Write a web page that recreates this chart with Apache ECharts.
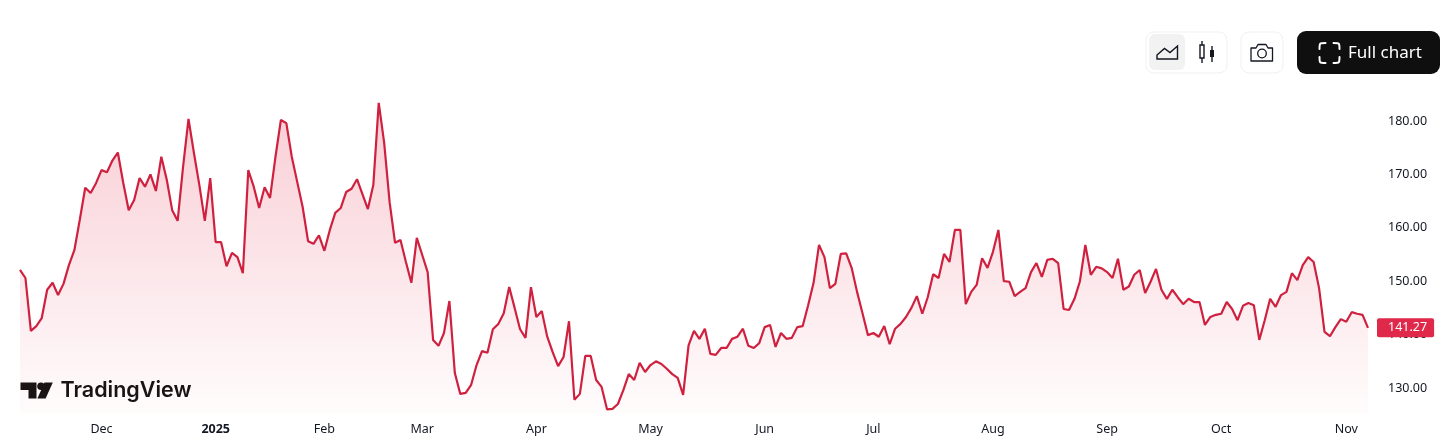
<!DOCTYPE html>
<html>
<head>
<meta charset="utf-8">
<title>Price chart</title>
<script src="https://cdn.jsdelivr.net/npm/echarts@6/dist/echarts.min.js"></script>
<style>
  html, body { margin: 0; padding: 0; background: #fff; }
  #chart { width: 1456px; height: 445px; }
</style>
</head>
<body>
<div id="chart"></div>
<script>
const prices = [
  152.1, 150.6, 140.7, 141.6, 143.1, 148.4, 149.7, 147.4, 149.5, 153,
  155.8, 161.5, 167.5, 166.5, 168.4, 170.8, 170.4, 172.6, 174.1, 168.4,
  163.3, 165.2, 169.3, 167.7, 170, 166.9, 173.3, 169, 163.3, 161.3,
  171.4, 180.4, 174, 168, 161.3, 169.3, 157.3, 157.3, 152.8, 155.3,
  154.5, 151.5, 170.8, 167.7, 163.7, 167.6, 165.6, 173.3, 180.2, 179.6,
  173.3, 168.6, 163.9, 157.5, 157, 158.6, 155.7, 159.6, 162.8, 163.7,
  166.7, 167.3, 169.1, 166.3, 163.5, 168, 183.4, 175.9, 164.8, 157.2,
  157.7, 153.6, 149.7, 158.1, 154.9, 151.7, 139, 137.9, 140.3, 146.3,
  132.8, 128.9, 129.1, 130.6, 134.3, 136.9, 136.6, 141, 142, 144,
  148.9, 145, 141, 139.4, 148.9, 143.3, 144.4, 139.6, 136.7, 134.1,
  135.8, 142.5, 127.8, 128.9, 136, 136, 131.5, 130.2, 126, 126.1,
  127, 129.6, 132.6, 131.5, 134.7, 133, 134.3, 135, 134.5, 133.6,
  132.6, 131.9, 128.7, 138, 140.7, 139.2, 141.1, 136.4, 136.2, 137.5,
  137.5, 139.2, 139.6, 141.1, 137.9, 137.5, 138.4, 141.4, 141.8, 137.7,
  140.3, 139.2, 139.4, 141.4, 141.6, 145.5, 149.7, 156.8, 154.5, 148.7,
  149.5, 155.1, 155.2, 152.5, 148, 144, 139.9, 140.3, 139.6, 141.6,
  138.2, 141.1, 142, 143.3, 145, 147.2, 143.9, 147, 151.3, 150.6,
  155.1, 153.6, 159.6, 159.6, 145.7, 148, 149.3, 154.3, 152.5, 155.5,
  159.6, 150, 149.9, 147.2, 148, 148.7, 151.7, 153.4, 150.8, 154,
  154.2, 153.4, 144.8, 144.6, 146.7, 150, 156.8, 151.2, 152.7, 152.4,
  151.7, 150.6, 154.2, 148.4, 149, 151.2, 152.1, 147.8, 149.9, 152.3,
  148.4, 146.7, 148.4, 147, 145.7, 146.7, 146.1, 146.1, 141.8, 143.3,
  143.7, 143.9, 146.1, 144.8, 142.7, 145.4, 145.9, 145.5, 139, 142.7,
  146.7, 145.2, 147.4, 148, 151.5, 150.2, 153, 154.5, 153.6, 148.7,
  140.5, 139.7, 141.4, 142.9, 142.4, 144.2, 143.9, 143.7, 141.27
]
const monthLabels = ['Dec', '2025', 'Feb', 'Mar', 'Apr', 'May', 'Jun', 'Jul', 'Aug', 'Sep', 'Oct', 'Nov']
const monthIndexes = [15, 36, 56, 74, 95, 116, 137, 157, 179, 200, 221, 244]
const priceTicks = [130, 140, 150, 160, 170, 180]
const lastPrice = prices[prices.length - 1]

const categories = prices.map((p, i) => {
  const m = monthIndexes.indexOf(i)
  return m >= 0 ? monthLabels[m] : ''
})

const FONT = '"Noto Sans", sans-serif'
const RED = '#cf213f'

// one rounded corner of the fullscreen icon, sx/sy say which way its arms run
const corner = (x, y, sx, sy) => ({
  type: 'bezierCurve',
  shape: { x1: x, y1: y + sy * 6, cpx1: x, cpy1: y, cpx2: x, cpy2: y, x2: x + sx * 6, y2: y },
  style: { fill: 'none', stroke: '#fff', lineWidth: 2, lineCap: 'round' }
})

const chart = echarts.init(document.getElementById('chart'), null, { renderer: 'canvas' })

chart.setOption({
  animation: false,
  backgroundColor: '#fff',
  grid: { left: 20, right: 88, top: 94.3, height: 320.4 },
  xAxis: {
    type: 'category',
    data: categories,
    boundaryGap: false,
    axisLine: { show: false },
    axisTick: { show: false },
    splitLine: { show: false },
    axisLabel: {
      margin: 8,
      interval: (i, v) => v !== '',
      fontFamily: FONT,
      fontSize: 12.5,
      color: '#131722',
      formatter: v => (v === '2025' ? '{year|2025}' : v),
      rich: { year: { fontFamily: FONT, fontSize: 12.5, fontWeight: 'bold', color: '#131722' } }
    }
  },
  yAxis: {
    type: 'value',
    position: 'right',
    min: 125,
    max: 185,
    axisLine: { show: false },
    axisTick: { show: false },
    splitLine: { show: false },
    axisLabel: {
      customValues: priceTicks,
      margin: 20,
      fontFamily: FONT,
      fontSize: 12.5,
      color: '#131722',
      formatter: v => v.toFixed(2)
    }
  },
  series: [
    {
      type: 'line',
      data: prices,
      symbol: 'none',
      smooth: false,
      lineStyle: { color: RED, width: 2.2 },
      areaStyle: {
        origin: 'start',
        color: new echarts.graphic.LinearGradient(0, 0, 0, 1, [
          { offset: 0, color: 'rgba(226,35,66,0.32)' },
          { offset: 1, color: 'rgba(226,35,66,0.02)' }
        ])
      },
      markPoint: {
        silent: true,
        symbol: 'rect',
        symbolSize: 0,
        data: [{ coord: [prices.length - 1, lastPrice] }],
        label: {
          show: true,
          position: 'right',
          distance: 9,
          formatter: () => lastPrice.toFixed(2),
          backgroundColor: '#e0294a',
          borderRadius: 2,
          padding: [3, 7, 3, 11],
          fontFamily: FONT,
          fontSize: 12.5,
          color: '#fff'
        }
      }
    }
  ],
  graphic: [
    // chart type switch
    { type: 'rect', shape: { x: 1146, y: 32, width: 81, height: 41, r: 8 }, style: { fill: '#fff', stroke: '#f0f1f4', lineWidth: 1 } },
    { type: 'rect', shape: { x: 1149, y: 34, width: 36, height: 36, r: 6 }, style: { fill: '#f2f2f2' } },
    { type: 'polygon', shape: { points: [[1157, 55], [1164.5, 48.5], [1170, 52.5], [1177.5, 46], [1177.5, 59], [1157, 59]] }, style: { fill: 'none', stroke: '#131722', lineWidth: 1.4 } },
    { type: 'line', shape: { x1: 1202, y1: 41, x2: 1202, y2: 63 }, style: { stroke: '#131722', lineWidth: 1.4 } },
    { type: 'rect', shape: { x: 1200, y: 45, width: 4, height: 13 }, style: { fill: '#fff', stroke: '#131722', lineWidth: 1.4 } },
    { type: 'line', shape: { x1: 1212, y1: 46, x2: 1212, y2: 62 }, style: { stroke: '#131722', lineWidth: 1.4 } },
    { type: 'rect', shape: { x: 1210, y: 50, width: 4, height: 7 }, style: { fill: '#131722' } },
    // camera
    { type: 'rect', shape: { x: 1241, y: 32, width: 42, height: 41, r: 8 }, style: { fill: '#fff', stroke: '#f0f1f4', lineWidth: 1 } },
    { type: 'polygon', shape: { points: [[1251, 48], [1256, 48], [1258, 44.5], [1266, 44.5], [1268, 48], [1272.5, 48], [1272.5, 61], [1251, 61]] }, style: { fill: 'none', stroke: '#131722', lineWidth: 1.3, lineJoin: 'round' } },
    { type: 'circle', shape: { cx: 1262, cy: 53.5, r: 4.3 }, style: { fill: 'none', stroke: '#131722', lineWidth: 1.3 } },
    // full chart button
    { type: 'rect', shape: { x: 1297, y: 31, width: 143, height: 43, r: 9 }, style: { fill: '#0f0f0f' } },
    corner(1319.5, 43, 1, 1),
    corner(1339.5, 43, -1, 1),
    corner(1319.5, 63, 1, -1),
    corner(1339.5, 63, -1, -1),
    { type: 'text', style: { x: 1348, y: 53, text: 'Full chart', fill: '#fff', font: '400 17px "Noto Sans", sans-serif', textVerticalAlign: 'middle' } },
    // TradingView logo
    { type: 'polygon', shape: { points: [[20.5, 382.5], [36.5, 382.5], [36.5, 398.5], [28.5, 398.5], [28.5, 390], [20.5, 390]] }, style: { fill: '#131313' } },
    { type: 'circle', shape: { cx: 41, cy: 386.3, r: 3.8 }, style: { fill: '#131313' } },
    { type: 'polygon', shape: { points: [[44.5, 382.5], [52.8, 382.5], [45.6, 398.5], [37.4, 398.5]] }, style: { fill: '#131313' } },
    { type: 'text', style: { x: 60.5, y: 391, text: 'TradingView', fill: '#131313', font: '600 21.5px Inter, sans-serif', textVerticalAlign: 'middle' } }
  ]
})

window.addEventListener('resize', () => chart.resize())
</script>
</body>
</html>
